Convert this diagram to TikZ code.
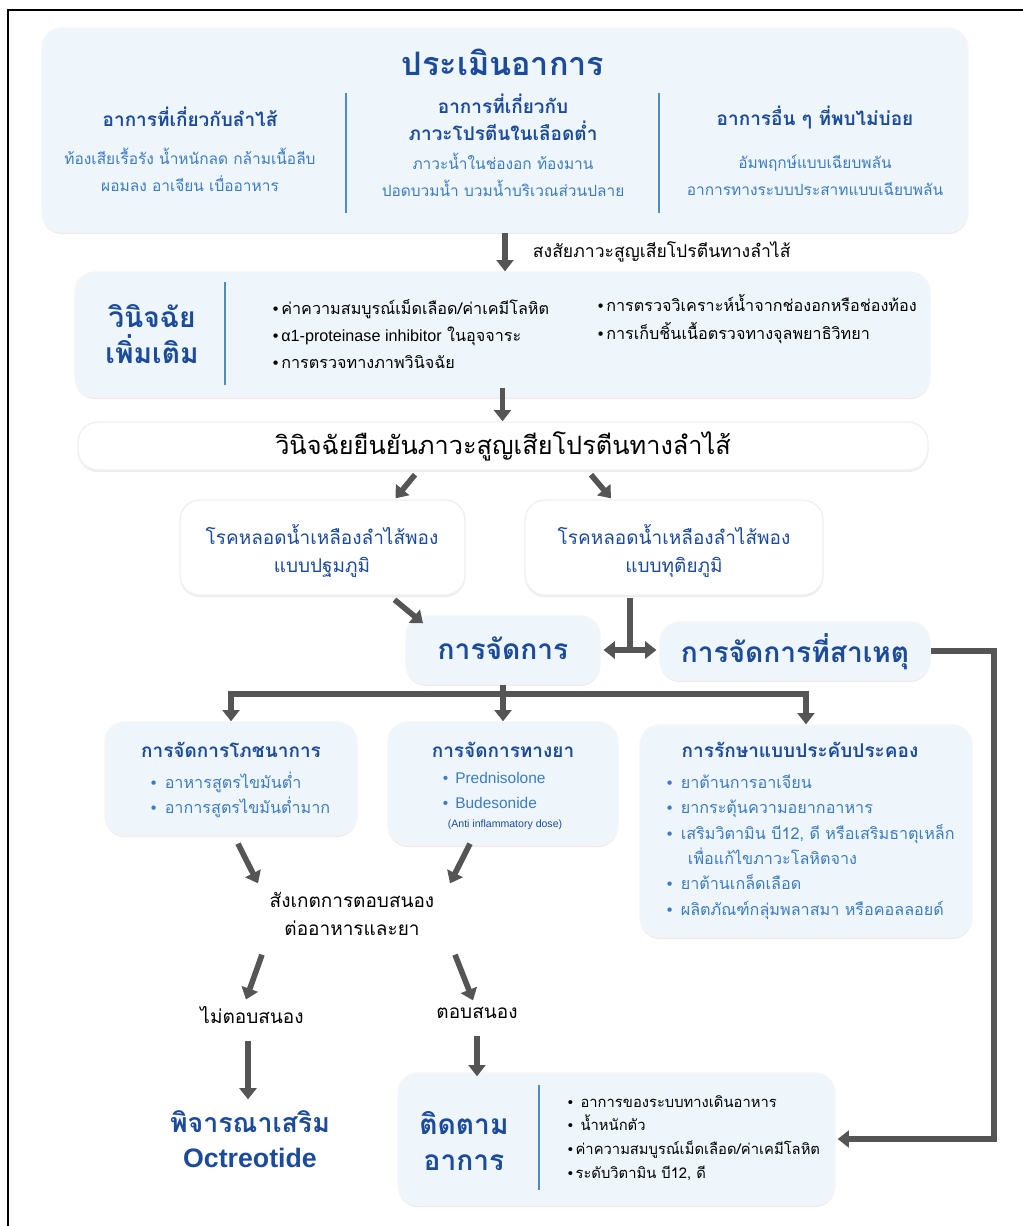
\documentclass[tikz,border=0pt]{standalone}
\usepackage{fontspec}
\setmainfont{Loma}[Script=Thai]
\newfontfamily\latin{Liberation Sans}
\usepackage{tikz}
\usetikzlibrary{positioning, arrows.meta, shadows, fit, calc}

\definecolor{navy}{HTML}{1C4B9B}
\definecolor{midblue}{HTML}{3C7CC4}
\definecolor{boxfill}{HTML}{EEF6FC}
\definecolor{arrowgray}{HTML}{555555}
\definecolor{rulecol}{HTML}{4E8CC9}
\newcommand{\bul}{{\latin •}\,}

\begin{document}
\begin{tikzpicture}
    [
        x=0.025cm, y=-0.025cm,
        blue_box/.style={rounded corners=5mm, fill=boxfill, draw=black!4, line width=1pt, inner sep=0pt, drop shadow={opacity=0.15, shadow xshift=0pt, shadow yshift=-1.5pt}},
        white_box/.style={rounded corners=5mm, fill=white, draw=black!6, line width=1pt, inner sep=0pt, drop shadow={opacity=0.15, shadow xshift=0pt, shadow yshift=-1.5pt}},
        title_text/.style={font=\fontsize{23}{30}\selectfont\bfseries, text=navy, align=center},
        big_text/.style={font=\fontsize{20}{26}\selectfont\bfseries, text=navy, align=center},
        head_text/.style={font=\fontsize{13.5}{19}\selectfont\bfseries, text=navy, align=center},
        body_text/.style={font=\fontsize{11}{19.5}\selectfont, text=midblue, align=center},
        list_text/.style={font=\fontsize{11.5}{19.5}\selectfont, text=black, align=left},
        blue_list/.style={font=\fontsize{11.5}{18}\selectfont, text=midblue, align=left},
        plain_text/.style={font=\fontsize{13.5}{20}\selectfont, text=black, align=center},
        divider/.style={draw=rulecol, line width=1pt},
        flow/.style={draw=arrowgray, line width=4pt, -{Triangle[length=8pt, width=12pt]}},
        flow_both/.style={draw=arrowgray, line width=4pt, {Triangle[length=8pt, width=12pt]}-{Triangle[length=8pt, width=12pt]}},
        flow_line/.style={draw=arrowgray, line width=4pt},
    ]
        \useasboundingbox (0,0) rectangle (1023,1226);
        \draw[line width=1.2pt] (8,1230) -- (8,10) -- (1030,10);

        % boxes
        \node[blue_box, fit={(42,28) (968,232)}] (assess) {};
        \node[blue_box, fit={(75,272) (930,397)}] (workup) {};
        \node[white_box, fit={(78,422) (928,470)}] (confirm) {};
        \node[white_box, fit={(180,500) (465,595)}] (primary) {};
        \node[white_box, fit={(525,500) (823,595)}] (secondary) {};
        \node[blue_box, fit={(406,616) (600,684)}] (manage) {};
        \node[blue_box, fit={(660,622) (930,680)}] (cause) {};
        \node[blue_box, fit={(105,722) (357,835)}] (diet) {};
        \node[blue_box, fit={(388,722) (618,845)}] (drug) {};
        \node[blue_box, fit={(640,725) (972,937)}] (support) {};
        \node[blue_box, fit={(398,1073) (835,1205)}] (monitor) {};

        % assessment
        \node[title_text] (assess_title) at (503,62) {ประเมินอาการ};
        \node[head_text] (gut_head) at (190,117) {อาการที่เกี่ยวกับลำไส้};
        \node[body_text] (gut_body) at (190,170) {ท้องเสียเรื้อรัง น้ำหนักลด กล้ามเนื้อลีบ\\ผอมลง อาเจียน เบื่ออาหาร};
        \node[head_text] (protein_head) at (503,117) {อาการที่เกี่ยวกับ\\ภาวะโปรตีนในเลือดต่ำ};
        \node[body_text] (protein_body) at (503,175) {ภาวะน้ำในช่องอก ท้องมาน\\ปอดบวมน้ำ บวมน้ำบริเวณส่วนปลาย};
        \node[head_text] (rare_head) at (815,117) {อาการอื่น ๆ ที่พบไม่บ่อย};
        \node[body_text] (rare_body) at (815,175) {อัมพฤกษ์แบบเฉียบพลัน\\อาการทางระบบประสาทแบบเฉียบพลัน};
        \draw[divider] (346,93) -- (346,213);
        \draw[divider] (659,93) -- (659,213);

        % work-up
        \node[big_text] (workup_title) at (152,334) {วินิจฉัย\\เพิ่มเติม};
        \draw[divider] (225,282) -- (225,385);
        \node[list_text, anchor=west] (tests_a) at (268,334) {\bul ค่าความสมบูรณ์เม็ดเลือด/ค่าเคมีโลหิต\\\bul{\latin α1-proteinase inhibitor} ในอุจจาระ\\\bul การตรวจทางภาพวินิจฉัย};
        \node[list_text, anchor=west] (tests_b) at (593,319) {\bul การตรวจวิเคราะห์น้ำจากช่องอกหรือช่องท้อง\\\bul การเก็บชิ้นเนื้อตรวจทางจุลพยาธิวิทยา};

        % diagnosis
        \node[font=\fontsize{18}{22}\selectfont, text=black] (confirm_text) at (503,446) {วินิจฉัยยืนยันภาวะสูญเสียโปรตีนทางลำไส้};
        \node[head_text, font=\fontsize{13.5}{20}\selectfont, text=navy] (primary_text) at (322,551) {โรคหลอดน้ำเหลืองลำไส้พอง\\แบบปฐมภูมิ};
        \node[head_text, font=\fontsize{13.5}{20}\selectfont, text=navy] (secondary_text) at (674,551) {โรคหลอดน้ำเหลืองลำไส้พอง\\แบบทุติยภูมิ};
        \node[big_text] (manage_text) at (503,648) {การจัดการ};
        \node[big_text] (cause_text) at (795,652) {การจัดการที่สาเหตุ};

        % treatment
        \node[head_text] (diet_head) at (231,750) {การจัดการโภชนาการ};
        \node[blue_list, anchor=north west] (diet_list) at (146,767) {\bul\ อาหารสูตรไขมันต่ำ\\\bul\ อาการสูตรไขมันต่ำมาก};
        \node[head_text] (drug_head) at (503,750) {การจัดการทางยา};
        \node[blue_list, anchor=north west, font=\latin\fontsize{11}{18}\selectfont] (drug_list) at (438,767) {\bul\ Prednisolone\\\bul\ Budesonide};
        \node[font=\latin\fontsize{7.5}{9}\selectfont, text=navy] (drug_note) at (505,825) {(Anti inflammatory dose)};
        \node[head_text] (support_head) at (800,750) {การรักษาแบบประคับประคอง};
        \node[blue_list, anchor=north west] (support_list) at (662,770) {\bul\ ยาต้านการอาเจียน\\\bul\ ยากระตุ้นความอยากอาหาร\\\bul\ เสริมวิตามิน บี12, ดี หรือเสริมธาตุเหล็ก\\\hspace{1.3em}เพื่อแก้ไขภาวะโลหิตจาง\\\bul\ ยาต้านเกล็ดเลือด\\\bul\ ผลิตภัณฑ์กลุ่มพลาสมา หรือคอลลอยด์};

        % response
        \node[plain_text] (observe) at (352,914) {สังเกตการตอบสนอง\\ต่ออาหารและยา};
        \node[plain_text] (nonresp) at (252,1015) {ไม่ตอบสนอง};
        \node[plain_text] (resp) at (477,1013) {ตอบสนอง};
        \node[big_text, font=\fontsize{19}{25}\selectfont\bfseries] (octreo) at (250,1139) {พิจารณาเสริม\\{\latin Octreotide}};
        \node[big_text] (monitor_title) at (464,1141) {ติดตาม\\อาการ};
        \draw[divider] (539,1085) -- (539,1190);
        \node[list_text, anchor=west, font=\fontsize{10.5}{17}\selectfont] (monitor_list) at (563,1138) {\bul\ อาการของระบบทางเดินอาหาร\\\bul\ น้ำหนักตัว\\\bul ค่าความสมบูรณ์เม็ดเลือด/ค่าเคมีโลหิต\\\bul ระดับวิตามิน บี12, ดี};

        % connectors
        \draw[flow] (assess.south) -- (assess.south |- workup.north);
        \node[plain_text, anchor=west, font=\fontsize{12.5}{16}\selectfont] (suspect) at (528,252) {สงสัยภาวะสูญเสียโปรตีนทางลำไส้};
        \draw[flow] ($(workup.south)+(0,-10)$) -- (workup.south |- confirm.north);
        \draw[flow] ($(confirm.south)+(-88,4)$) -- ($(primary.north)+(73,-1)$);
        \draw[flow] ($(confirm.south)+(88,4)$) -- ($(secondary.north)+(-63,-1)$);
        \draw[flow] ($(primary.south)+(72,4)$) -- ($(manage.north)+(-80,8)$);
        \draw[flow_line] ($(secondary.south)+(-44,2)$) -- ($(manage.east)!0.5!(cause.west)$);
        \draw[flow_both, shorten <=2pt, shorten >=2pt] (manage.east) -- (manage.east -| cause.west);
        \draw[flow, line join=miter] (cause.east) -- ++(63,0) |- ($(monitor.east)+(2,0)$);
        \draw[flow] (manage.south) -- (drug.north);
        \draw[flow] ($(manage.south)+(0,9)$) -| (diet.north);
        \draw[flow] ($(manage.south)+(0,9)$) -| (support.north);
        \draw[flow] ($(diet.south)+(7,8)$) -- ($(observe.north)+(-94,-4)$);
        \draw[flow] ($(drug.south)+(-33,-2)$) -- ($(observe.north)+(98,-4)$);
        \draw[flow] ($(observe.south)+(-90,14)$) -- ($(nonresp.north)+(-6,-2)$);
        \draw[flow] ($(observe.south)+(103,14)$) -- ($(resp.north)+(-4,-2)$);
        \draw[flow] ($(nonresp.south)+(-4,12)$) -- ($(nonresp.south |- octreo.north)+(-4,-6)$);
        \draw[flow] ($(resp.south)+(0,12)$) -- ($(resp.south |- monitor.north)+(0,4)$);
    \end{tikzpicture}
\end{document}
